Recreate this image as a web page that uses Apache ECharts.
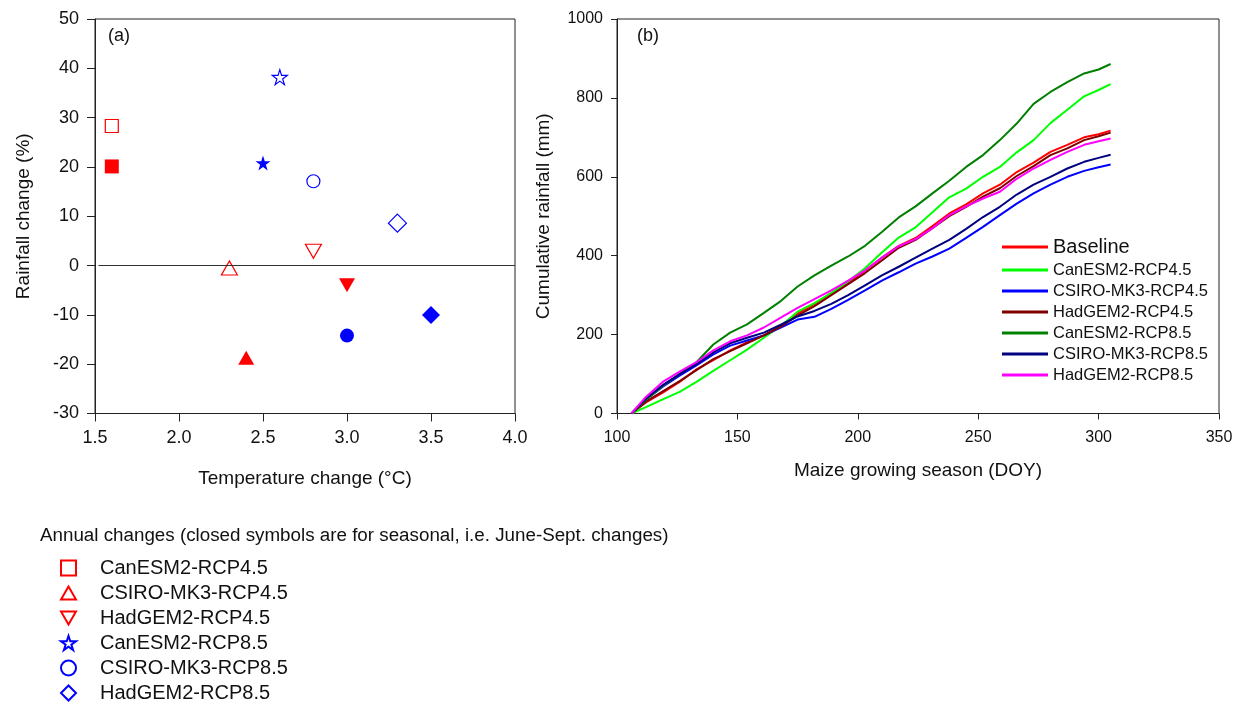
<!DOCTYPE html>
<html>
<head>
<meta charset="utf-8">
<script src="https://cdn.jsdelivr.net/npm/echarts@6/dist/echarts.min.js"></script>
<style>
html,body{margin:0;padding:0;background:#fff;}
#c{width:1240px;height:702px;}
</style>
</head>
<body>
<div id="c"></div>
<script>
// ---------- Panel (a) data ----------
const models = ['CanESM2-RCP4.5','CSIRO-MK3-RCP4.5','HadGEM2-RCP4.5','CanESM2-RCP8.5','CSIRO-MK3-RCP8.5','HadGEM2-RCP8.5'];
const annualTemp = [1.6, 2.3, 2.8, 2.6, 2.8, 3.3];
const annualRain = [28.3, -0.5, 2.9, 38.2, 17.1, 8.6];
const seasonTemp = [1.6, 2.4, 3.0, 2.5, 3.0, 3.5];
const seasonRain = [20.1, -18.7, -4.0, 20.8, -14.2, -10.0];
const xTicksA = [1.5, 2.0, 2.5, 3.0, 3.5, 4.0];

// ---------- Panel (b) data ----------
const doy = [106,112,119,126,133,140,147,154,161,168,175,182,189,196,203,210,217,224,231,238,245,252,259,266,273,280,287,294,300,305];
const lineNames = ['Baseline','CanESM2-RCP4.5','CSIRO-MK3-RCP4.5','HadGEM2-RCP4.5','CanESM2-RCP8.5','CSIRO-MK3-RCP8.5','HadGEM2-RCP8.5'];
const baseline   = [0,28,53,80,112,135,160,180,198,222,253,278,305,332,362,395,425,445,475,507,530,558,580,612,636,663,681,700,708,717];
const canesm45   = [0,16,36,55,80,108,135,162,192,222,258,280,305,335,368,408,446,472,510,548,570,600,625,662,693,736,770,804,820,835];
const csiro45    = [0,35,68,96,122,150,172,185,198,218,238,245,265,288,312,337,358,380,398,418,445,473,503,532,558,580,600,615,624,631];
const hadgem45   = [0,30,56,82,110,138,158,178,198,220,248,272,300,328,356,388,420,440,470,500,524,550,571,602,627,655,672,693,703,712];
const canesm85   = [0,35,70,100,130,175,205,226,255,285,322,350,375,398,425,460,497,525,558,590,625,655,693,735,785,815,840,862,872,886];
const csiro85    = [0,38,72,100,125,155,178,192,205,225,246,260,278,300,325,350,372,395,418,440,468,498,524,555,580,600,621,638,648,656];
const hadgem85   = [0,42,80,106,130,160,183,198,218,243,268,290,312,337,363,395,424,442,470,503,525,545,562,595,621,643,663,681,690,697];
const lineValues = [baseline, canesm45, csiro45, hadgem45, canesm85, csiro85, hadgem85];
const lineColors = ['#ff0000','#00ff00','#0000ff','#800000','#008000','#000080','#ff00ff'];

// ---------- styles ----------
const FONT = '"Liberation Sans", Arial, sans-serif';
const AX = '#222';
const starPath = 'path://M50,0 L61.2,34.5 L97.6,34.5 L68.2,55.9 L79.4,90.5 L50,69.1 L20.6,90.5 L31.8,55.9 L2.4,34.5 L38.8,34.5 Z';
const upTri = 'path://M50,0 L100,88 L0,88 Z';
const downTri = 'path://M0,0 L100,0 L50,88 Z';
const symbols = ['rect', upTri, downTri, starPath, 'circle', 'diamond'];
const sizes = [[13,13],[16,14],[16,14],[15,15],[13,13],[18,18]];
const fsizes = [[14,14],[16,14],[16,14],[15,15],[14,14],[18,18]];
const mColors = ['#ff0000','#ff0000','#ff0000','#0000ff','#0000ff','#0000ff'];

const series = [];
// seasonal (closed symbols)
models.forEach((m,i)=>{
  series.push({
    name: m + ' (Jun-Sep)', type:'scatter', xAxisIndex:0, yAxisIndex:0,
    symbol: symbols[i], symbolSize: fsizes[i],
    itemStyle:{color:mColors[i], opacity:1},
    data:[[seasonTemp[i], seasonRain[i]]], z:3
  });
});
// annual (open symbols)
models.forEach((m,i)=>{
  series.push({
    name: m, type:'scatter', xAxisIndex:0, yAxisIndex:0,
    symbol: symbols[i], symbolSize: sizes[i],
    itemStyle:{color:'#ffffff', borderColor:mColors[i], borderWidth:1.2, opacity:1},
    data:[[annualTemp[i], annualRain[i]]], z:3
  });
});
// zero line
series.push({
  type:'line', xAxisIndex:0, yAxisIndex:0, data:[], silent:true,
  markLine:{silent:true, symbol:'none', label:{show:false},
    lineStyle:{color:'#333', width:1, type:'solid'},
    data:[[{coord:[1.52,0]},{coord:[4.0,0]}]]}
});
lineNames.forEach((n,i)=>{
  series.push({
    name:'L:'+n, type:'line', xAxisIndex:1, yAxisIndex:1, symbol:'none',
    lineStyle:{color:lineColors[i], width:2}, itemStyle:{color:lineColors[i]},
    data: doy.map((d,k)=>[d, lineValues[i][k]])
  });
});

// one legend block per model row (symbol legend for panel a)
const symbolLegends = models.map((m,i)=>({
  orient:'vertical', left:60, top:558 + i*25, padding:0, itemWidth:15, itemHeight:15,
  data:[m], selectedMode:false,
  textStyle:{fontSize:20, color:'#111', lineHeight:20, padding:[0,0,0,19], fontFamily:FONT}
}));

const chart = echarts.init(document.getElementById('c'), null, {renderer:'canvas'});
chart.setOption({
  animation:false,
  backgroundColor:'#fff',
  textStyle:{fontFamily:FONT},
  grid:[
    {left:95, right:725, top:19, bottom:288.5, show:true, borderColor:AX, borderWidth:1},
    {left:617, right:21, top:19, bottom:288.5, show:true, borderColor:AX, borderWidth:1}
  ],
  xAxis:[
    {gridIndex:0, type:'value', min:1.5, max:4.0, interval:0.5,
     axisLine:{onZero:false, lineStyle:{color:AX}}, axisTick:{length:8, lineStyle:{color:AX}},
     splitLine:{show:false},
     axisLabel:{fontSize:18, color:'#111', margin:16, formatter:v=>v.toFixed(1), fontFamily:FONT},
     name:'Temperature change (\u00B0C)', nameLocation:'middle', nameGap:56,
     nameTextStyle:{fontSize:19, color:'#111', fontFamily:FONT}},
    {gridIndex:1, type:'value', min:100, max:350, interval:50,
     axisLine:{onZero:false, lineStyle:{color:AX}}, axisTick:{length:6, lineStyle:{color:AX}},
     splitLine:{show:false},
     axisLabel:{fontSize:16, color:'#111', margin:16, fontFamily:FONT},
     name:'Maize growing season (DOY)', nameLocation:'middle', nameGap:48,
     nameTextStyle:{fontSize:19, color:'#111', fontFamily:FONT}}
  ],
  yAxis:[
    {gridIndex:0, type:'value', min:-30, max:50, interval:10,
     axisLine:{onZero:false, lineStyle:{color:AX}}, axisTick:{length:8, lineStyle:{color:AX}},
     splitLine:{show:false},
     axisLabel:{fontSize:18, color:'#111', margin:16, fontFamily:FONT},
     name:'Rainfall change (%)', nameLocation:'middle', nameGap:62, nameRotate:90,
     nameTextStyle:{fontSize:19, color:'#111', fontFamily:FONT}},
    {gridIndex:1, type:'value', min:0, max:1000, interval:200,
     axisLine:{onZero:false, lineStyle:{color:AX}}, axisTick:{length:6, lineStyle:{color:AX}},
     splitLine:{show:false},
     axisLabel:{fontSize:16, color:'#111', margin:14, fontFamily:FONT, formatter:v=>String(v)},
     name:'Cumulative rainfall (mm)', nameLocation:'middle', nameGap:64, nameRotate:90,
     nameTextStyle:{fontSize:19, color:'#111', fontFamily:FONT}}
  ],
  legend: symbolLegends.concat([
    {orient:'vertical', left:997, top:231, itemWidth:46, itemHeight:3, itemGap:3, icon:'rect',
     selectedMode:false,
     formatter: n => n.replace(/^L:/,''),
     data: lineNames.map((n,i)=> i===0 ? {name:'L:'+n, textStyle:{fontSize:20, lineHeight:22}} : {name:'L:'+n}),
     textStyle:{fontSize:16.5, color:'#111', lineHeight:18, padding:[0,0,0,0], fontFamily:FONT}}
  ]),
  graphic:[
    {type:'text', left:108, top:27, style:{text:'(a)', font:'18px '+FONT, fill:'#111'}},
    {type:'text', left:637, top:27, style:{text:'(b)', font:'18px '+FONT, fill:'#111'}},
    {type:'text', left:40, top:526, style:{text:'Annual changes (closed symbols are for seasonal, i.e. June-Sept. changes)', font:'18.8px '+FONT, fill:'#111'}}
  ],
  series: series
});
</script>
</body>
</html>
